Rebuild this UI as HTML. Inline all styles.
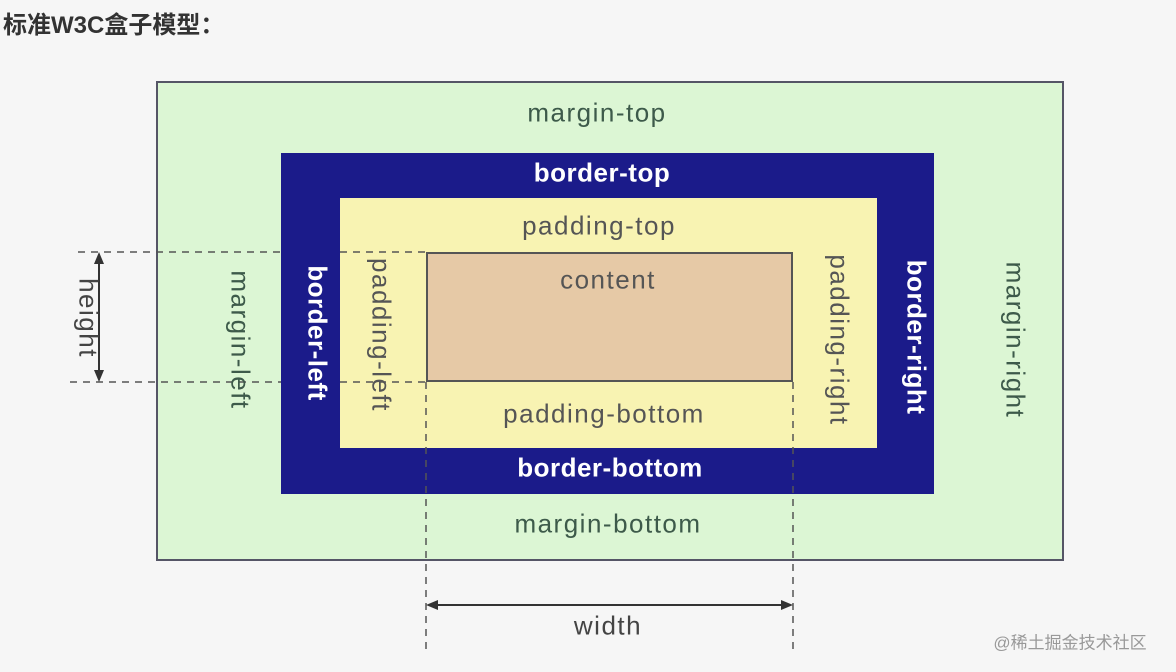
<!DOCTYPE html>
<html><head><meta charset="utf-8"><style>
body{margin:0;width:1176px;height:672px;background:#f6f6f6;overflow:hidden;position:relative;font-family:"Liberation Sans","Noto Sans CJK SC",sans-serif}
.b{position:absolute;box-sizing:border-box}
.t{position:absolute;font-size:26px;letter-spacing:1.5px;white-space:nowrap;transform:translate(-50%,-50%)}
.w{color:#fff;font-weight:bold;letter-spacing:0.5px}
.v{transform:translate(-50%,-50%) rotate(90deg)}
</style></head><body>
<div style="position:absolute;left:3px;top:5px;font-size:24px;font-weight:bold;color:#333;font-family:'Liberation Sans','Noto Sans CJK SC',sans-serif">标准W3C盒子模型：</div>
<div class="b" style="left:156px;top:81px;width:908px;height:480px;background:#dcf6d4;border:2px solid #556"></div>
<svg width="1176" height="672" style="position:absolute;left:0;top:0">
<g stroke="#555" stroke-width="1.5" stroke-dasharray="7,6" fill="none">
<line x1="78" y1="252" x2="426" y2="252"/><line x1="70" y1="382" x2="426" y2="382"/>
</g></svg>
<div class="b" style="left:281px;top:153px;width:653px;height:341px;background:#1b1b8a"></div>
<div class="b" style="left:340px;top:198px;width:537px;height:250px;background:#f8f3b2"></div>
<div class="b" style="left:426px;top:252px;width:367px;height:130px;background:#e6c9a6;border:2px solid #555"></div>
<svg width="1176" height="672" style="position:absolute;left:0;top:0">
<g stroke="#555" stroke-width="1.5" stroke-dasharray="7,6" fill="none">
<line x1="340" y1="252" x2="426" y2="252"/><line x1="340" y1="382" x2="426" y2="382"/>
<line x1="426" y1="382" x2="426" y2="652"/><line x1="793" y1="382" x2="793" y2="652"/>
</g>
<g stroke="#333" stroke-width="2"><line x1="99" y1="258" x2="99" y2="376"/><line x1="432" y1="605" x2="787" y2="605"/></g>
<g fill="#333"><polygon points="99,252 94,264 104,264"/><polygon points="99,382 94,370 104,370"/>
<polygon points="426,605 438,600 438,610"/><polygon points="793,605 781,600 781,610"/></g>
</svg>
<div class="t" style="left:597px;top:113px;color:#3d5a4a">margin-top</div>
<div class="t w" style="left:602px;top:173px">border-top</div>
<div class="t" style="left:599px;top:226px;color:#555">padding-top</div>
<div class="t" style="left:608px;top:280px;color:#555">content</div>
<div class="t" style="left:604px;top:414px;color:#555">padding-bottom</div>
<div class="t w" style="left:610px;top:468px">border-bottom</div>
<div class="t" style="left:608px;top:524px;color:#3d5a4a">margin-bottom</div>
<div class="t" style="left:608px;top:626px;color:#444">width</div>
<div class="t v" style="left:88px;top:318px;color:#444">height</div>
<div class="t v" style="left:240px;top:340px;color:#3d5a4a">margin-left</div>
<div class="t v w" style="left:317px;top:333px">border-left</div>
<div class="t v" style="left:381px;top:335px;color:#555">padding-left</div>
<div class="t v" style="left:839px;top:340px;color:#555">padding-right</div>
<div class="t v w" style="left:916px;top:337px">border-right</div>
<div class="t v" style="left:1015px;top:340px;color:#3d5a4a">margin-right</div>
<div class="t" style="left:1070px;top:641px;font-size:17px;letter-spacing:0;color:#999">@稀土掘金技术社区</div>
</body></html>
